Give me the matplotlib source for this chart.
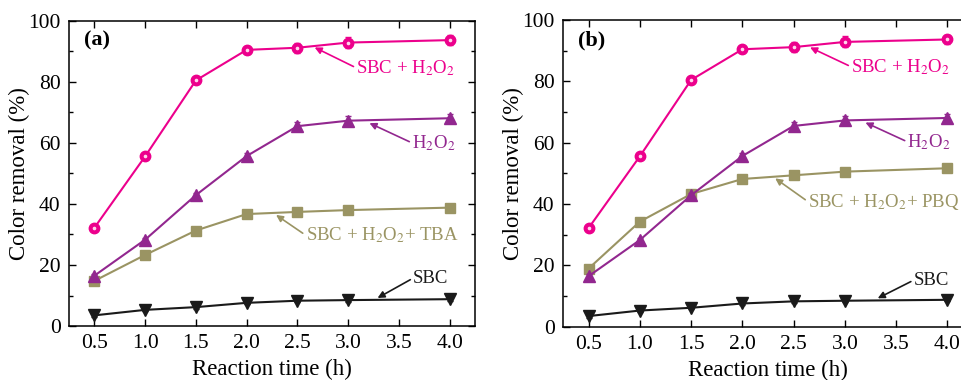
import numpy as np
import matplotlib
matplotlib.use("Agg")
import matplotlib.pyplot as plt
from matplotlib.ticker import MultipleLocator

plt.rcParams['font.family'] = ['Liberation Serif', 'DejaVu Serif']
plt.rcParams['mathtext.fontset'] = 'stix'

# data
t = [0.5, 1.0, 1.5, 2.0, 2.5, 3.0, 4.0]
sbc_h2o2 = [32.2, 55.6, 80.5, 90.5, 91.2, 92.9, 93.7]
sbc_h2o2_err = [0.6, 0.7, 1.0, 1.2, 1.6, 1.8, 1.6]
h2o2 = [16.5, 28.3, 42.9, 55.7, 65.5, 67.3, 68.1]
h2o2_err = [0.6, 0.7, 0.8, 1.0, 1.3, 1.5, 1.4]
sbc_tba = [14.8, 23.3, 31.3, 36.7, 37.4, 38.0, 38.8]
sbc_pbq = [19.0, 34.3, 43.3, 48.2, 49.4, 50.6, 51.7]
sbc = [3.5, 5.3, 6.2, 7.6, 8.3, 8.5, 8.8]
sbc_err = [0.5, 0.5, 0.5, 0.5, 0.5, 0.5, 0.5]

PINK = '#ec008c'
PURPLE = '#92278f'
OLIVE = '#9a9463'
BLACK = '#1a1a1a'

fig = plt.figure(figsize=(9.61, 3.80), dpi=100)
ax_a = fig.add_axes([0.0718, 0.142, 0.4225, 0.803])
ax_b = fig.add_axes([0.5858, 0.140, 0.4268, 0.807])


def panel(ax, third, third_name, lbl, notes):
    ax.errorbar(t, sbc_h2o2, yerr=sbc_h2o2_err, color=PINK, lw=1.5, marker='o',
                ms=7.5, mfc=PINK, mec=PINK, capsize=2.5, elinewidth=1, zorder=5)
    ax.plot(t, sbc_h2o2, ls='none', marker='o', ms=1.6, mfc='#ffd6ec',
            mec='#ffd6ec', zorder=6)
    ax.errorbar(t, h2o2, yerr=h2o2_err, color=PURPLE, lw=1.5, marker='^',
                ms=8, capsize=2.5, elinewidth=1, zorder=4)
    ax.plot(t, third, color=OLIVE, lw=1.5, marker='s', ms=6.5, zorder=3)
    ax.errorbar(t, sbc, yerr=sbc_err, color=BLACK, lw=1.5, marker='v', ms=8,
                capsize=2, elinewidth=1, zorder=3)

    labels = ['SBC + H$_2$O$_2$', 'H$_2$O$_2$', third_name, 'SBC']
    colors = [PINK, PURPLE, OLIVE, BLACK]
    for text, col, (xy, xytext) in zip(labels, colors, notes):
        ax.annotate(text, xy=xy, xytext=xytext, color=col, fontsize=13.5,
                    ha='left', va='center',
                    arrowprops=dict(arrowstyle='-|>', color=col, lw=1.2,
                                    mutation_scale=10, shrinkA=0, shrinkB=0,
                                    relpos=(0, 0.5)))

    ax.text(0.40, 93.5, lbl, fontsize=16, fontweight='bold', va='center')
    ax.set_xlim(0.25, 4.25)
    ax.set_ylim(0, 100)
    ax.set_xticks([0.5, 1.0, 1.5, 2.0, 2.5, 3.0, 3.5, 4.0])
    ax.set_xticklabels(['0.5', '1.0', '1.5', '2.0', '2.5', '3.0', '3.5', '4.0'])
    ax.yaxis.set_major_locator(MultipleLocator(20))
    ax.yaxis.set_minor_locator(MultipleLocator(10))
    ax.tick_params(which='both', direction='in', top=True, right=True,
                   labelsize=15.5, pad=6)
    ax.tick_params(which='major', length=5, width=1)
    ax.tick_params(which='minor', length=3, width=1)
    ax.set_xlabel('Reaction time (h)', fontsize=16.5, labelpad=4)
    ax.set_ylabel('Color removal (%)', fontsize=16.5, labelpad=-1)
    for s in ax.spines.values():
        s.set_linewidth(1.1)


notes_a = [((2.67, 91.3), (3.08, 84.6)),
           ((3.21, 66.5), (3.63, 60.0)),
           ((2.29, 36.4), (2.58, 29.8)),
           ((3.29, 9.2), (3.64, 15.7))]
notes_b = [((2.66, 91.1), (3.06, 84.8)),
           ((3.20, 66.6), (3.61, 60.3)),
           ((2.32, 48.4), (2.64, 40.8)),
           ((3.32, 9.3), (3.67, 15.2))]

panel(ax_a, sbc_tba, 'SBC + H$_2$O$_2$+ TBA', '(a)', notes_a)
panel(ax_b, sbc_pbq, 'SBC + H$_2$O$_2$+ PBQ', '(b)', notes_b)

fig.savefig('out.png', dpi=100)
